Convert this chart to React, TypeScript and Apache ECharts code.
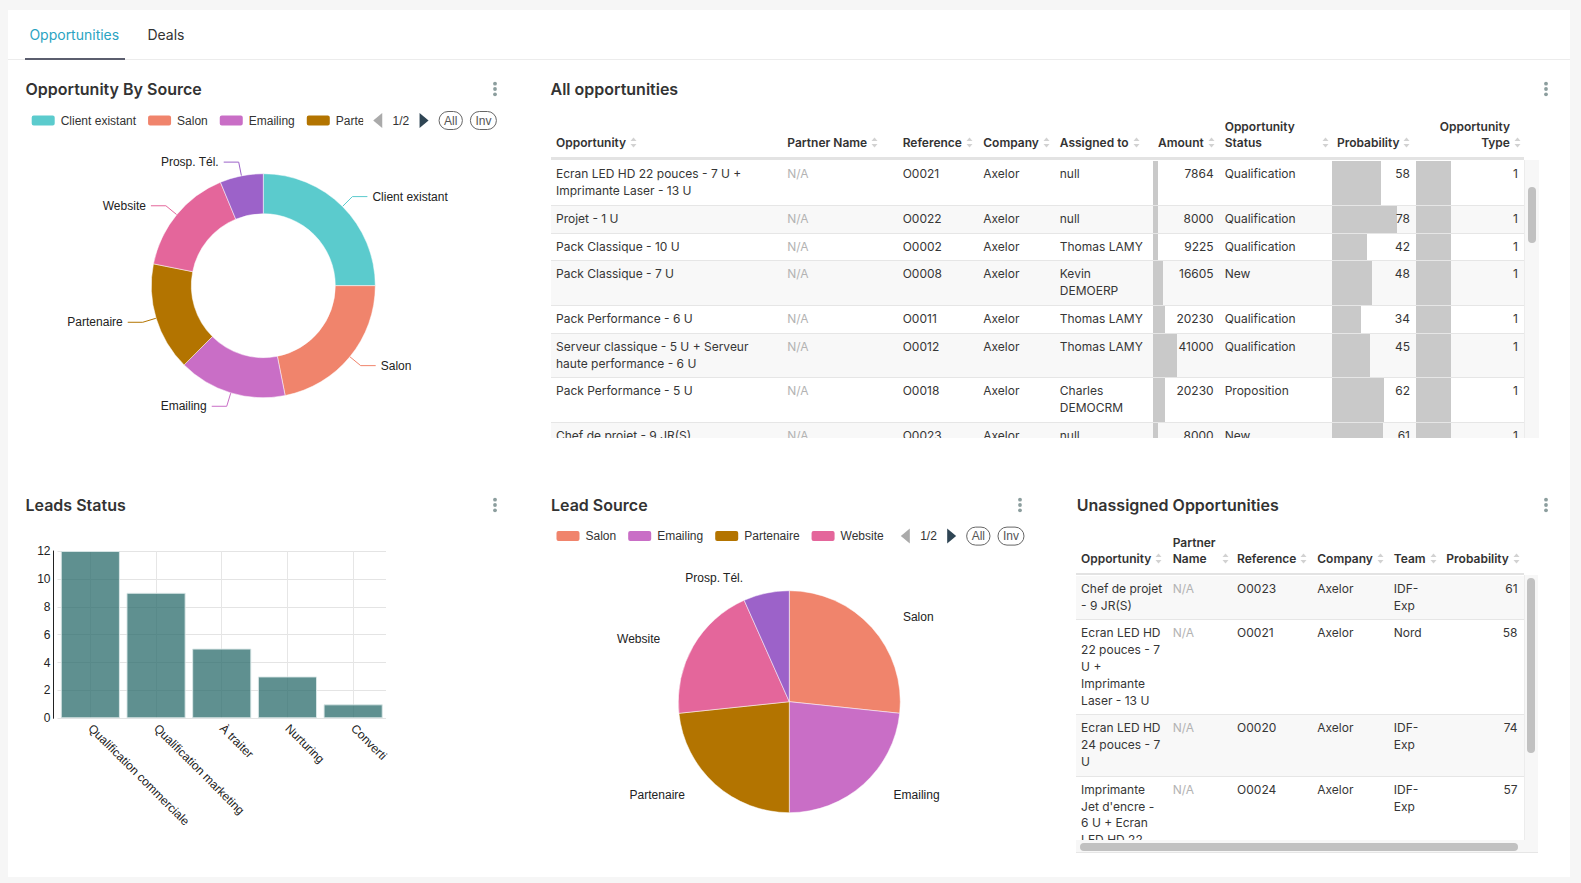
import React, { useEffect, useRef } from 'react';
import * as echarts from 'echarts';

const FONT_UI = 'Inter, "Noto Sans", sans-serif';
const FONT_CHART = '"Liberation Sans", Arial, sans-serif';

// ---------- chart data ----------
const sourceColors: Record<string, string> = {
  'Client existant': '#5bcbcd',
  Salon: '#f0846c',
  Emailing: '#c96ec6',
  Partenaire: '#b37400',
  Website: '#e4669b',
  'Prosp. Tél.': '#9c62c9',
};

const oppSourceNames = ['Client existant', 'Salon', 'Emailing', 'Partenaire', 'Website', 'Prosp. Tél.'];
const oppSourceValues = [8, 7, 5, 5, 5, 2];

const leadSourceNames = ['Salon', 'Emailing', 'Partenaire', 'Website', 'Prosp. Tél.'];
const leadSourceValues = [8, 7, 7, 6, 2];

const leadStatusCategories = ['Qualification commerciale', 'Qualification marketing', 'À traiter', 'Nurturing', 'Converti'];
const leadStatusValues = [12, 9, 5, 3, 1];
const leadStatusTicks = { min: 0, max: 12, interval: 2 };

// ---------- table data: All opportunities ----------
const oppNames = [
  'Ecran LED HD 22 pouces - 7 U +\nImprimante Laser - 13 U',
  'Projet - 1 U',
  'Pack Classique - 10 U',
  'Pack Classique - 7 U',
  'Pack Performance - 6 U',
  'Serveur classique - 5 U + Serveur\nhaute performance - 6 U',
  'Pack Performance - 5 U',
  'Chef de projet - 9 JR(S)',
];
const oppPartners = ['N/A', 'N/A', 'N/A', 'N/A', 'N/A', 'N/A', 'N/A', 'N/A'];
const oppRefs = ['O0021', 'O0022', 'O0002', 'O0008', 'O0011', 'O0012', 'O0018', 'O0023'];
const oppCompanies = ['Axelor', 'Axelor', 'Axelor', 'Axelor', 'Axelor', 'Axelor', 'Axelor', 'Axelor'];
const oppAssigned = ['null', 'null', 'Thomas LAMY', 'Kevin\nDEMOERP', 'Thomas LAMY', 'Thomas LAMY', 'Charles\nDEMOCRM', 'null'];
const oppAmounts = [7864, 8000, 9225, 16605, 20230, 41000, 20230, 8000];
const oppStatuses = ['Qualification', 'Qualification', 'Qualification', 'New', 'Qualification', 'Qualification', 'Proposition', 'New'];
const oppProbabilities = [58, 78, 42, 48, 34, 45, 62, 61];
const oppTypes = [1, 1, 1, 1, 1, 1, 1, 1];
const amountMax = 114000;
const probabilityMax = 100;
const typeMax = 3.12;

// ---------- table data: Unassigned ----------
const unNames = [
  'Chef de projet\n- 9 JR(S)',
  'Ecran LED HD\n22 pouces - 7\nU +\nImprimante\nLaser - 13 U',
  'Ecran LED HD\n24 pouces - 7\nU',
  "Imprimante\nJet d'encre -\n6 U + Ecran\nLED HD 22\npouces - 7 U",
];
const unPartners = ['N/A', 'N/A', 'N/A', 'N/A'];
const unRefs = ['O0023', 'O0021', 'O0020', 'O0024'];
const unCompanies = ['Axelor', 'Axelor', 'Axelor', 'Axelor'];
const unTeams = ['IDF-\nExp', 'Nord', 'IDF-\nExp', 'IDF-\nExp'];
const unProbabilities = [61, 58, 74, 57];

// ---------- components ----------
function EChart({ option, style }: { option: any; style: React.CSSProperties }) {
  const ref = useRef<HTMLDivElement>(null);
  useEffect(() => {
    const chart = echarts.init(ref.current!, undefined, { renderer: 'svg' });
    chart.setOption(option);
    return () => chart.dispose();
  }, []);
  return <div ref={ref} style={style} />;
}

function Dots({ x, y }: { x: number; y: number }) {
  return (
    <svg width="6" height="16" style={{ position: 'absolute', left: x - 3, top: y - 8 }}>
      <circle cx="3" cy="2.7" r="1.9" fill="#8c9e9e" />
      <circle cx="3" cy="8" r="1.9" fill="#8c9e9e" />
      <circle cx="3" cy="13.3" r="1.9" fill="#8c9e9e" />
    </svg>
  );
}

function Title({ x, y, text }: { x: number; y: number; text: string }) {
  return (
    <div style={{ position: 'absolute', left: x, top: y - 11, height: 22, lineHeight: '22px', fontSize: 16, fontWeight: 600, color: '#333', whiteSpace: 'nowrap' }}>
      {text}
    </div>
  );
}

function SortIcon() {
  return (
    <svg width="7" height="11" viewBox="0 0 7 11" style={{ display: 'block' }}>
      <path d="M3.5 0.5L6.5 4H0.5z" fill="#d2d2d2" />
      <path d="M3.5 10.5L6.5 7H0.5z" fill="#d2d2d2" />
    </svg>
  );
}

type Col = {
  header: string[];
  width: number;
  align?: 'left' | 'right';
  headerAlign?: 'left' | 'right';
  values: (string | number)[];
  muted?: boolean;
  bar?: (v: any) => number;
};

function Table({ x, y, headerH, lineW, bodyH, bodyPad, cols, stripe }: { x: number; y: number; headerH: number; lineW: number; bodyH: number; bodyPad: number; cols: Col[]; stripe: (i: number) => boolean }) {
  const n = cols[0].values.length;
  const total = cols.reduce((s, c) => s + c.width, 0);
  return (
    <div style={{ position: 'absolute', left: x, top: y, width: total }}>
      <div style={{ display: 'flex', height: headerH, borderBottom: `${lineW}px solid #e3e3e3` }}>
        {cols.map((c, i) => {
          const multi = c.header.length > 1;
          const right = c.headerAlign === 'right';
          return (
            <div key={i} style={{ width: c.width, flex: 'none', boxSizing: 'border-box', padding: '0 3px 6.5px 5px', display: 'flex', alignItems: 'flex-end', justifyContent: right ? 'flex-end' : 'flex-start', fontSize: 12, fontWeight: 600, color: '#333', lineHeight: '16px' }}>
              <div style={{ flex: multi ? 1 : 'none', textAlign: right ? 'right' : 'left', whiteSpace: 'nowrap' }}>
                {c.header.map((h, k) => (
                  <div key={k}>{h}</div>
                ))}
              </div>
              <div style={{ marginLeft: 4, marginBottom: 2.5 }}>
                <SortIcon />
              </div>
            </div>
          );
        })}
      </div>
      <div style={{ height: bodyH, overflow: 'hidden', boxSizing: 'border-box', paddingTop: bodyPad }}>
        {Array.from({ length: n }).map((_, r) => (
          <div key={r} style={{ display: 'flex', borderBottom: '1px solid #e6e6e6', background: stripe(r) ? '#f8f8f8' : '#ffffff' }}>
            {cols.map((c, i) => {
              const v = c.values[r];
              return (
                <div key={i} style={{ width: c.width, flex: 'none', position: 'relative', boxSizing: 'border-box', padding: c.align === 'right' ? '5px 6px 5px 5px' : '5px 4px 5px 5px', lineHeight: '16.8px', fontSize: 12, textAlign: c.align === 'right' ? 'right' : 'left', whiteSpace: 'pre', color: c.muted ? '#b3b3b3' : '#363636' }}>
                  {c.bar ? (
                    <div style={{ position: 'absolute', left: 0, top: 0, bottom: 0, width: `${Math.min(100, c.bar(v) * 100)}%`, background: '#c9c9c9' }} />
                  ) : null}
                  <span style={{ position: 'relative' }}>{String(v)}</span>
                </div>
              );
            })}
          </div>
        ))}
      </div>
    </div>
  );
}

// ---------- chart options ----------
const legendCommon = {
  type: 'scroll',
  padding: 0,
  itemWidth: 25,
  itemHeight: 12,
  itemGap: 10,
  selector: ['all', 'inverse'],
  selectorButtonGap: 10,
  textStyle: { fontSize: 12, color: '#333', fontFamily: FONT_CHART },
  pageTextStyle: { color: '#333', fontFamily: FONT_CHART },
  pageIconColor: '#2f4554',
  pageIconInactiveColor: '#aaa',
  selectorLabel: { fontFamily: FONT_CHART, color: '#555', borderColor: '#666' },
};

const donutOption = {
  animation: false,
  textStyle: { fontFamily: FONT_CHART },
  legend: { ...legendCommon, left: 21.7, top: 11, width: 467.2, data: oppSourceNames },
  series: [
    {
      type: 'pie',
      radius: [72, 112],
      center: [255.3, 185.7],
      startAngle: 90,
      itemStyle: { borderColor: '#fff', borderWidth: 0.5 },
      label: { color: '#222', fontSize: 12, fontFamily: FONT_CHART },
      labelLine: { length: 14, length2: 15 },
      data: oppSourceNames.map((n, i) => ({ name: n, value: oppSourceValues[i], itemStyle: { color: sourceColors[n] } })),
    },
  ],
};

const leadSourceOption = {
  animation: false,
  textStyle: { fontFamily: FONT_CHART },
  legend: { ...legendCommon, left: 24.5, top: 11.6, width: 470, data: leadSourceNames },
  series: [
    {
      type: 'pie',
      radius: 111,
      center: [259.3, 186.7],
      startAngle: 90,
      itemStyle: { borderColor: '#fff', borderWidth: 0.5 },
      label: { color: '#222', fontSize: 12, fontFamily: FONT_CHART },
      labelLine: { show: false, length: 15, length2: 15 },
      data: leadSourceNames.map((n, i) => ({ name: n, value: leadSourceValues[i], itemStyle: { color: sourceColors[n] } })),
    },
  ],
};

const leadStatusOption = {
  animation: false,
  textStyle: { fontFamily: FONT_CHART },
  grid: { left: 49.5, top: 21, width: 328.5, height: 167.3 },
  xAxis: {
    type: 'category',
    data: leadStatusCategories,
    axisLine: { show: false },
    axisTick: { show: false, alignWithLabel: true },
    splitLine: { show: true, alignWithLabel: true, lineStyle: { color: '#e6e6e6' } },
    axisLabel: { rotate: -45, color: '#222', fontSize: 12, margin: 8, interval: 0, fontFamily: FONT_CHART },
  },
  yAxis: {
    type: 'value',
    min: leadStatusTicks.min,
    max: leadStatusTicks.max,
    interval: leadStatusTicks.interval,
    offset: 4,
    axisLine: { show: true, lineStyle: { color: '#222' } },
    axisTick: { show: false },
    axisLabel: { color: '#222', fontSize: 12, margin: 3, fontFamily: FONT_CHART },
    splitLine: { lineStyle: { color: '#e4e4e4' } },
  },
  series: [
    {
      type: 'bar',
      data: leadStatusValues,
      barCategoryGap: '10%',
      itemStyle: { color: 'rgba(42,107,107,0.75)', borderColor: 'rgba(220,232,232,0.9)', borderWidth: 1 },
    },
  ],
};

export default function App() {
  useEffect(() => {
    document.body.style.margin = '0';
  }, []);

  const oppCols: Col[] = [
    { header: ['Opportunity'], width: 231.3, values: oppNames },
    { header: ['Partner Name'], width: 115.4, values: oppPartners, muted: true },
    { header: ['Reference'], width: 80.6, values: oppRefs },
    { header: ['Company'], width: 76.5, values: oppCompanies },
    { header: ['Assigned to'], width: 98.2, values: oppAssigned },
    { header: ['Amount'], width: 66.7, align: 'right', values: oppAmounts, bar: (v: number) => v / amountMax },
    { header: ['Opportunity', 'Status'], width: 112.3, values: oppStatuses },
    { header: ['Probability'], width: 84, align: 'right', values: oppProbabilities, bar: (v: number) => v / probabilityMax },
    { header: ['Opportunity', 'Type'], width: 108, align: 'right', headerAlign: 'right', values: oppTypes, bar: (v: number) => v / typeMax },
  ];

  const unCols: Col[] = [
    { header: ['Opportunity'], width: 91.6, values: unNames },
    { header: ['Partner', 'Name'], width: 64.4, values: unPartners, muted: true },
    { header: ['Reference'], width: 80.2, values: unRefs },
    { header: ['Company'], width: 76.5, values: unCompanies },
    { header: ['Team'], width: 52.6, values: unTeams },
    { header: ['Probability'], width: 82.2, align: 'right', values: unProbabilities },
  ];

  return (
    <div style={{ position: 'absolute', left: 0, top: 0, width: 1581, height: 883, background: '#f6f6f6', overflow: 'hidden', fontFamily: FONT_UI }}>
      <div style={{ position: 'absolute', left: 8, top: 10, width: 1562, height: 867, background: '#fff' }} />

      {/* tabs */}
      <div style={{ position: 'absolute', left: 29.4, top: 25, height: 20, lineHeight: '20px', fontSize: 14, color: '#2aa3c2' }}>Opportunities</div>
      <div style={{ position: 'absolute', left: 147.4, top: 25, height: 20, lineHeight: '20px', fontSize: 14, color: '#333' }}>Deals</div>
      <div style={{ position: 'absolute', left: 8, top: 59, width: 1562, height: 1, background: '#ececec' }} />
      <div style={{ position: 'absolute', left: 25, top: 57.7, width: 100, height: 2.3, background: '#5b5e6e' }} />

      {/* titles */}
      <Title x={25.5} y={88.7} text="Opportunity By Source" />
      <Dots x={494.5} y={88.7} />
      <Title x={550.5} y={88.7} text="All opportunities" />
      <Dots x={1546} y={88.7} />
      <Title x={25.5} y={505} text="Leads Status" />
      <Dots x={494.5} y={505} />
      <Title x={551} y={505} text="Lead Source" />
      <Dots x={1020} y={505} />
      <Title x={1076.8} y={505} text="Unassigned Opportunities" />
      <Dots x={1546} y={505} />

      {/* charts */}
      <EChart option={donutOption} style={{ position: 'absolute', left: 8, top: 100, width: 510, height: 340 }} />
      <EChart option={leadStatusOption} style={{ position: 'absolute', left: 8, top: 530, width: 510, height: 330 }} />
      <EChart option={leadSourceOption} style={{ position: 'absolute', left: 530, top: 515, width: 510, height: 340 }} />

      {/* All opportunities table */}
      <Table x={551} y={110.3} headerH={47} lineW={3} bodyH={277.3} bodyPad={1} cols={oppCols} stripe={(i) => i % 2 === 1} />
      <div style={{ position: 'absolute', left: 1524, top: 160.3, width: 14.5, height: 277.3, background: '#f7f7f7', borderLeft: '1px solid #ececec', boxSizing: 'border-box' }} />
      <div style={{ position: 'absolute', left: 1527.5, top: 187.3, width: 8, height: 56, background: '#c1c1c1', borderRadius: 4 }} />

      {/* Unassigned table */}
      <Table x={1076.1} y={525} headerH={48} lineW={2} bodyH={265} bodyPad={0.8} cols={unCols} stripe={(i) => i % 2 === 0} />
      <div style={{ position: 'absolute', left: 1523.6, top: 575, width: 14.4, height: 265, background: '#f7f7f7', borderLeft: '1px solid #ececec', boxSizing: 'border-box' }} />
      <div style={{ position: 'absolute', left: 1526.5, top: 577.7, width: 8.5, height: 175.3, background: '#c1c1c1', borderRadius: 4 }} />
      <div style={{ position: 'absolute', left: 1076, top: 840, width: 462, height: 12.7, background: '#f7f7f7', borderBottom: '1px solid #e6e6e6', boxSizing: 'border-box' }} />
      <div style={{ position: 'absolute', left: 1079.5, top: 842.7, width: 438.5, height: 8, background: '#c1c1c1', borderRadius: 4 }} />
    </div>
  );
}
